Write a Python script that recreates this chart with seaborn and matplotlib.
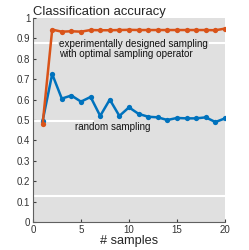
import pandas as pd
import matplotlib
matplotlib.use("Agg")
import matplotlib.pyplot as plt
import seaborn as sns

samples = list(range(1, 21))
designed = [0.478, 0.943, 0.933, 0.935, 0.933, 0.941, 0.940, 0.940, 0.941, 0.942,
            0.941, 0.941, 0.941, 0.941, 0.941, 0.941, 0.941, 0.941, 0.940, 0.948]
random_s = [0.495, 0.725, 0.605, 0.620, 0.590, 0.613, 0.520, 0.600, 0.520, 0.562,
            0.530, 0.516, 0.513, 0.500, 0.510, 0.508, 0.508, 0.513, 0.490, 0.508]

df = pd.DataFrame({
    'n': samples * 2,
    'acc': designed + random_s,
    'method': ['designed'] * 20 + ['random'] * 20,
})

sns.set_style("ticks")
plt.rcParams['font.family'] = ['Liberation Sans', 'DejaVu Sans']

fig = plt.figure(figsize=(2.49, 2.5), dpi=100)
ax = fig.add_axes([0.1325, 0.112, 0.771, 0.816])
ax.set_facecolor('#e0e0e0')

# white streaks seen in the original figure
ax.axhline(0.877, color='white', lw=1.5, zorder=1)
ax.axhline(0.497, xmax=0.31, color='white', lw=1.5, zorder=1)
ax.axhline(0.127, color='white', lw=1.5, zorder=1)

sns.lineplot(data=df, x='n', y='acc', hue='method',
             palette={'designed': '#D95319', 'random': '#0072BD'},
             hue_order=['random', 'designed'],
             marker='o', markersize=3.8, markeredgewidth=0, lw=1.8,
             legend=False, ax=ax, zorder=3)

ax.set_xlim(0, 20)
ax.set_ylim(0, 1)
ax.set_xticks([0, 5, 10, 15, 20])
ax.set_yticks([0, 0.1, 0.2, 0.3, 0.4, 0.5, 0.6, 0.7, 0.8, 0.9, 1])
ax.set_yticklabels(['0', '0.1', '0.2', '0.3', '0.4', '0.5', '0.6', '0.7', '0.8', '0.9', '1'])
ax.tick_params(direction='in', length=2, labelsize=7, colors='#404040',
               labelcolor='#333333', pad=2)
for s in ['top', 'right']:
    ax.spines[s].set_visible(False)
for s in ['left', 'bottom']:
    ax.spines[s].set_color('#606060')
    ax.spines[s].set_linewidth(0.8)

box = dict(facecolor='#e0e0e0', edgecolor='none', pad=1)
ax.text(2.7, 0.897, 'experimentally designed sampling\nwith optimal sampling operator',
        fontsize=7.1, va='top', ha='left', linespacing=1.0, color='#111111',
        bbox=box, zorder=2)
ax.text(4.4, 0.465, 'random sampling', fontsize=7.1, va='center', ha='left',
        color='#111111', zorder=2)

ax.set_title('Classification accuracy', fontsize=9.4, loc='left', pad=1)
ax.set_xlabel('# samples', fontsize=9.2, labelpad=0)
ax.set_ylabel('')

fig.savefig('out.png', dpi=100)
